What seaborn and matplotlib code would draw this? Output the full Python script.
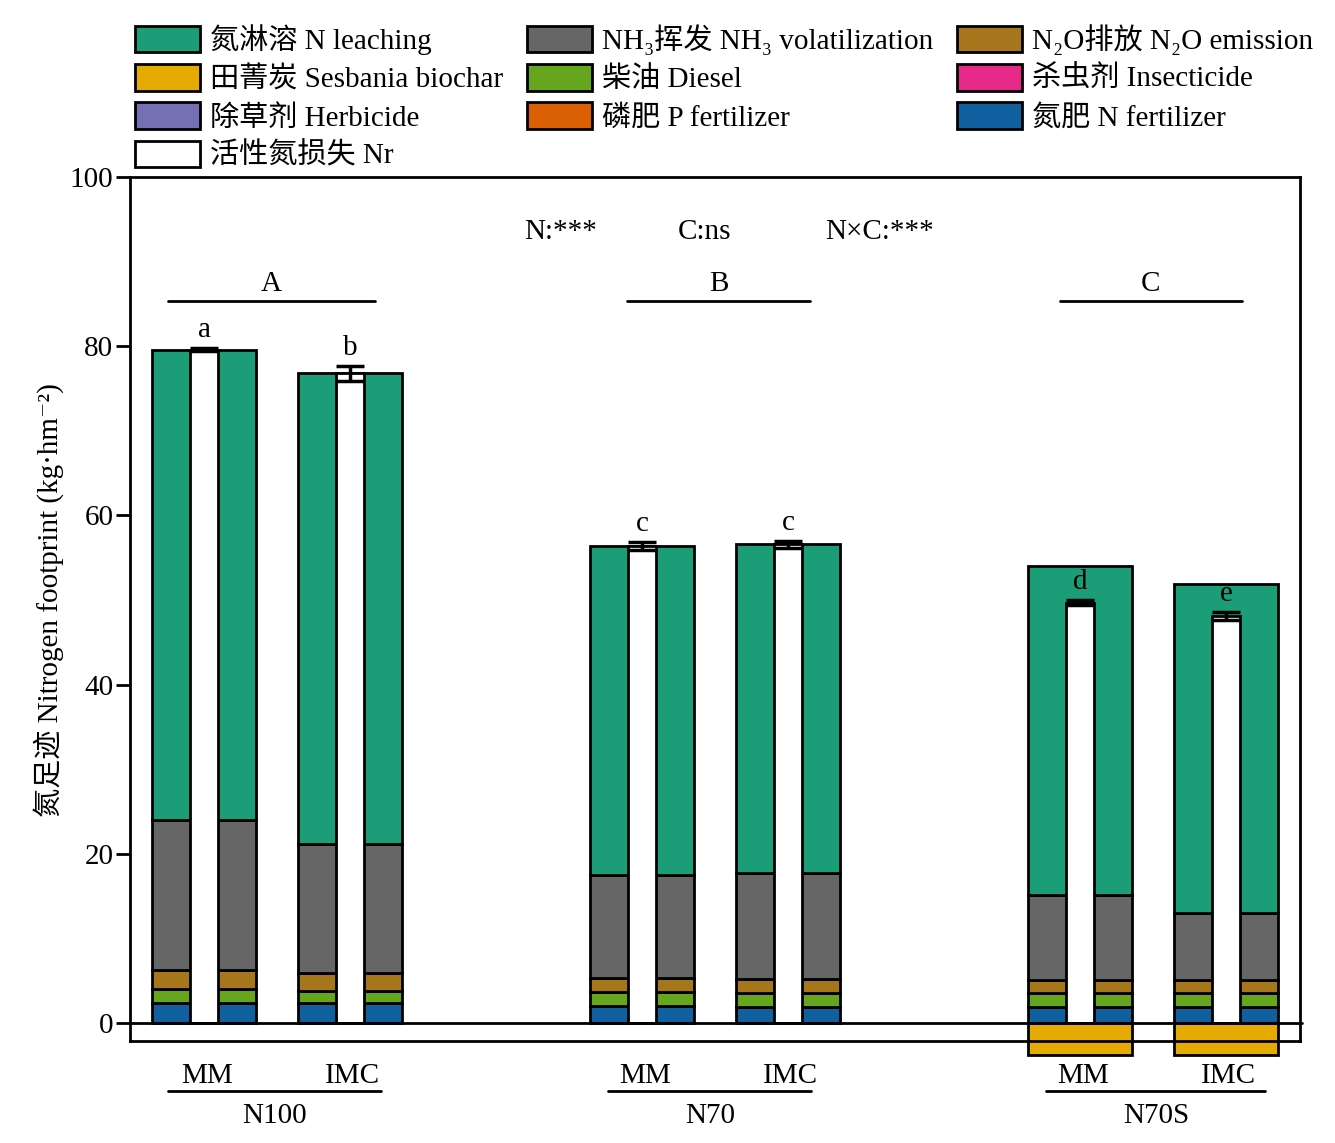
import matplotlib
matplotlib.use("Agg")
import matplotlib.pyplot as plt
from matplotlib.patches import Patch
import seaborn as sns
import numpy as np

# ---------------- data ----------------
groups = ["N100", "N70", "N70S"]
systems = ["MM", "IMC"]
treatments = ["N100-MM", "N100-IMC", "N70-MM", "N70-IMC", "N70S-MM", "N70S-IMC"]

n_fertilizer = [2.4, 2.4, 2.0, 1.9, 1.9, 1.9]
p_fertilizer = [0.0, 0.0, 0.0, 0.0, 0.0, 0.0]
diesel       = [1.6, 1.4, 1.7, 1.7, 1.7, 1.7]
insecticide  = [0.0, 0.0, 0.0, 0.0, 0.0, 0.0]
herbicide    = [0.0, 0.0, 0.0, 0.0, 0.0, 0.0]
n2o_emission = [2.3, 2.1, 1.6, 1.6, 1.5, 1.5]
nh3_volatil  = [17.7, 15.3, 12.2, 12.5, 10.0, 7.9]
n_leaching   = [55.6, 55.6, 38.9, 38.9, 38.9, 38.9]
biochar      = [0.0, 0.0, 0.0, 0.0, -3.8, -3.8]

nr_loss = [79.6, 76.8, 56.4, 56.6, 49.7, 48.1]
nr_err  = [0.2, 0.9, 0.5, 0.4, 0.3, 0.5]
nr_letters = ["a", "b", "c", "c", "d", "e"]
group_letters = ["A", "B", "C"]
stats_text = ["N:***", "C:ns", "N×C:***"]

labels = {
    "leach": "氮淋溶 N leaching",
    "nh3": "NH₃挥发 NH₃ volatilization",
    "n2o": "N₂O排放 N₂O emission",
    "bio": "田菁炭 Sesbania biochar",
    "diesel": "柴油 Diesel",
    "insect": "杀虫剂 Insecticide",
    "herb": "除草剂 Herbicide",
    "pfert": "磷肥 P fertilizer",
    "nfert": "氮肥 N fertilizer",
    "nr": "活性氮损失 Nr",
}
pal = sns.color_palette("Dark2", 8)
colors = {
    "leach": pal[0], "pfert": pal[1], "herb": pal[2], "insect": pal[3],
    "diesel": pal[4], "bio": pal[5], "n2o": pal[6], "nh3": pal[7],
    "nfert": "#1060a0", "nr": "white",
}

# ---------------- style ----------------
sns.set_theme(style="white")
plt.rcParams["font.family"] = ["Liberation Serif", "DejaVu Serif", "Noto Sans CJK SC"]
plt.rcParams["axes.unicode_minus"] = False
for k in ["text.color", "axes.labelcolor", "xtick.color", "ytick.color"]:
    plt.rcParams[k] = "black"
FS = 21

fig = plt.figure(figsize=(13.35, 11.43), dpi=100)
ax = fig.add_axes([130/1335, 1-1041/1143, 1170/1335, 864/1143])

# x positions: two systems per group, groups separated
xpos = np.array([0, 1, 3, 4, 6, 7], dtype=float)
W = 0.71
WN = 0.19
EC = "black"
LW = 2

stack_order = [("nfert", n_fertilizer), ("pfert", p_fertilizer), ("diesel", diesel),
               ("insect", insecticide), ("herb", herbicide), ("n2o", n2o_emission),
               ("nh3", nh3_volatil), ("leach", n_leaching)]
bottom = np.zeros(len(xpos))
for key, vals in stack_order:
    vals = np.array(vals)
    ax.bar(xpos, vals, width=W, bottom=bottom, color=colors[key], edgecolor=EC,
           linewidth=LW, zorder=2)
    bottom += vals
ax.bar(xpos, biochar, width=W, bottom=0, color=colors["bio"], edgecolor=EC,
       linewidth=LW, zorder=2, clip_on=False)

# Nr white bars with error bars
ax.bar(xpos, nr_loss, width=WN, color="white", edgecolor=EC, linewidth=LW, zorder=3)
ax.errorbar(xpos, nr_loss, yerr=nr_err, fmt="none", ecolor="black", elinewidth=2.5,
            capsize=10, capthick=2.5, zorder=4)
for x, v, e, t in zip(xpos, nr_loss, nr_err, nr_letters):
    ax.text(x, v + e + 0.6, t, ha="center", va="bottom", fontsize=FS, zorder=5)

ax.axhline(0, color="black", linewidth=2, zorder=5, xmax=1.002, clip_on=False)

# group letters and lines
gl_x = [(-0.25, 1.17), (2.90, 4.15), (5.86, 7.11)]
for (x0, x1), t in zip(gl_x, group_letters):
    ax.plot([x0, x1], [85.3, 85.3], color="black", linewidth=2)
    ax.text((x0 + x1) / 2, 85.8, t, ha="center", va="bottom", fontsize=FS)

for x, t in zip([2.44, 3.43, 4.63], stats_text):
    ax.text(x, 93.5, t, ha="center", va="center", fontsize=FS)

# bottom labels
bl_x = [(-0.25, 1.21), (2.77, 4.16), (5.77, 7.27)]
for gi, ((x0, x1), g) in enumerate(zip(bl_x, groups)):
    for si, s in enumerate(systems):
        ax.text(xpos[gi*2+si] + 0.02, -6.3, s, ha="center", va="center", fontsize=FS,
                clip_on=False)
    ax.plot([x0, x1], [-8.05, -8.05], color="black", linewidth=2, clip_on=False)
    ax.text((x0 + x1) / 2, -11.0, g, ha="center", va="center", fontsize=FS, clip_on=False)

ax.set_xlim(-0.507, 7.507)
ax.set_ylim(-2.13, 100)
ax.set_yticks([0, 20, 40, 60, 80, 100])
ax.set_xticks([])
ax.tick_params(axis="y", left=True, direction="out", length=10, width=2, labelsize=FS, pad=2)
for sp in ax.spines.values():
    sp.set_color("black")
    sp.set_linewidth(2)
ax.set_ylabel("氮足迹 Nitrogen footprint (kg·hm⁻²)", fontsize=FS)
ax.yaxis.set_label_coords(-0.056, 0.51)

# legend
order = ["leach", "bio", "herb", "nr", "nh3", "diesel", "pfert", "n2o", "insect", "nfert"]
handles = [Patch(facecolor=colors[k], edgecolor="black", linewidth=2, label=labels[k]) for k in order]
fig.legend(handles=handles, loc="upper left", bbox_to_anchor=(135/1335, 1-24/1143),
           ncol=3, frameon=False, fontsize=FS, borderpad=0, borderaxespad=0,
           handlelength=2.23, handleheight=1.03, handletextpad=0.35, columnspacing=0.8,
           labelspacing=0.31)

fig.savefig("out.png", dpi=100)
